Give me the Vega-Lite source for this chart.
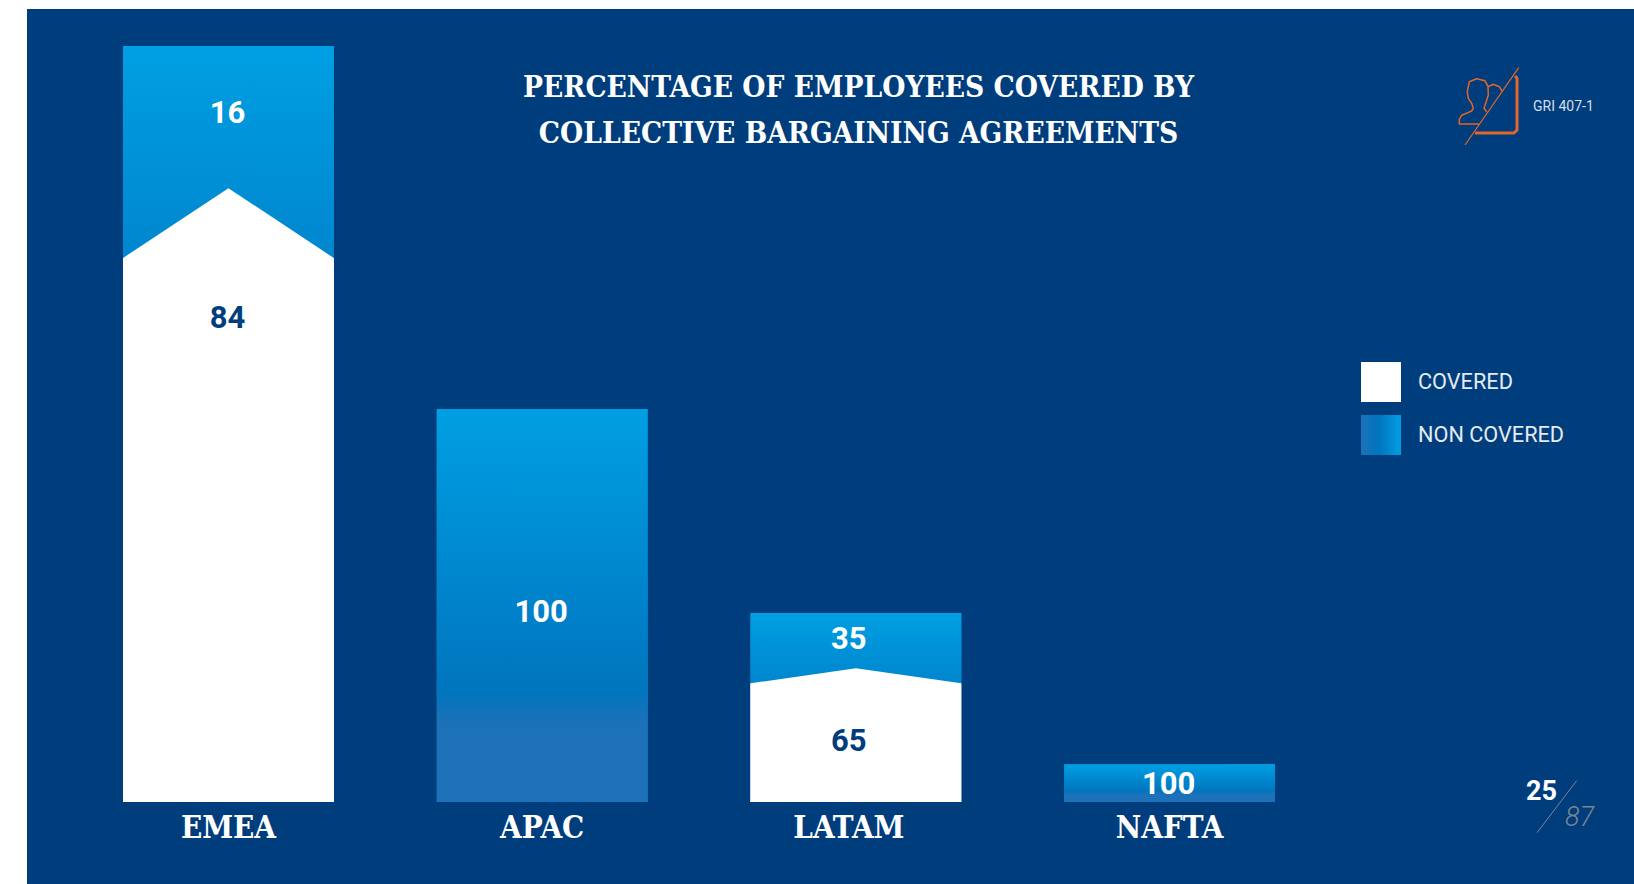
{
"$schema":"https://vega.github.io/schema/vega-lite/v6.json",
"width":1607,"height":875,
"autosize":{"type":"none"},
"padding":{"left":27,"top":9,"right":0,"bottom":0},
"background":"#ffffff",
"view":{"fill":"#003D7C","stroke":null},
"title":{"text":["PERCENTAGE OF EMPLOYEES COVERED BY","COLLECTIVE BARGAINING AGREEMENTS"],"font":"DejaVu Serif Condensed","fontWeight":"bold","fontSize":29.6,"lineHeight":46,"color":"#ffffff","anchor":"middle","dx":28,"dy":141,"baseline":"top","offset":0},
"datasets":{
"segments":[
{"region":"EMEA","segment":"COVERED","y0":0,"y1":71.96,"share":84,"label_at":64.2},
{"region":"EMEA","segment":"NON COVERED","y0":71.96,"y1":100,"share":16,"label_at":91.3},
{"region":"APAC","segment":"NON COVERED","y0":0,"y1":52,"share":100,"label_at":25.3},
{"region":"LATAM","segment":"COVERED","y0":0,"y1":15.7,"share":65,"label_at":8.2},
{"region":"LATAM","segment":"NON COVERED","y0":15.7,"y1":25,"share":35,"label_at":21.7},
{"region":"NAFTA","segment":"NON COVERED","y0":0,"y1":5,"share":100,"label_at":2.5}
],
"chevrons":[
{"region":"EMEA","pos":0.664,"top":71.96,"base":0},{"region":"EMEA","pos":1,"top":81.2,"base":0},{"region":"EMEA","pos":1.336,"top":71.96,"base":0},
{"region":"LATAM","pos":2.664,"top":15.7,"base":0},{"region":"LATAM","pos":3,"top":17.7,"base":0},{"region":"LATAM","pos":3.336,"top":15.7,"base":0}
],
"notes":[
{"text":"GRI 407-1","x":1533,"y":106.5},
{"text":"25","x":1526,"y":792},
{"text":"87","x":1565,"y":818}
],
"icon":[
{"part":"diag","x":1518.7,"y":67.7,"i":0},{"part":"diag","x":1465,"y":145,"i":1},
{"part":"slash","x":1576.7,"y":780.7,"i":0},{"part":"slash","x":1537,"y":832.7,"i":1},
{"part":"frame","x":1515,"y":76,"i":0},{"part":"frame","x":1517,"y":78,"i":1},{"part":"frame","x":1517,"y":130,"i":2},{"part":"frame","x":1514,"y":133,"i":3},{"part":"frame","x":1475,"y":133,"i":4},
{"part":"front","x":1479.3,"y":124,"i":0},{"part":"front","x":1459.3,"y":124,"i":1},{"part":"front","x":1459.3,"y":119.3,"i":2},{"part":"front","x":1461.7,"y":115.3,"i":3},{"part":"front","x":1471.7,"y":111,"i":4},{"part":"front","x":1473.3,"y":108.3,"i":5},{"part":"front","x":1471.7,"y":103.3,"i":6},{"part":"front","x":1468.3,"y":98.3,"i":7},{"part":"front","x":1467.3,"y":91.7,"i":8},{"part":"front","x":1469.3,"y":81.7,"i":9},{"part":"front","x":1476.7,"y":78.7,"i":10},{"part":"front","x":1485,"y":80.7,"i":11},{"part":"front","x":1488,"y":86.7,"i":12},{"part":"front","x":1488.3,"y":95,"i":13},{"part":"front","x":1485.7,"y":103.3,"i":14},{"part":"front","x":1484,"y":108.3,"i":15},{"part":"front","x":1486.7,"y":111.7,"i":16},
{"part":"back","x":1488,"y":86.7,"i":0},{"part":"back","x":1493.3,"y":84.3,"i":1},{"part":"back","x":1499.3,"y":86.7,"i":2},{"part":"back","x":1502.3,"y":91.7,"i":3}
]
},
"layer":[
{
"data":{"name":"segments"},
"encoding":{
"x":{"field":"region","type":"nominal","sort":["EMEA","APAC","LATAM","NAFTA"],"scale":{"type":"band","domain":["EMEA","APAC","LATAM","NAFTA"],"range":[96,1248],"paddingInner":0.328,"paddingOuter":0},
"axis":{"title":null,"orient":"bottom","offset":-82,"domain":false,"ticks":false,"labelAngle":0,"labelPadding":11,"labelOffset":{"condition":{"test":"datum.value==='LATAM'","value":-7},"value":0},"labelFont":"DejaVu Serif Condensed","labelFontWeight":"bold","labelFontSize":31,"labelColor":"#ffffff"}},
"y":{"field":"y1","type":"quantitative","scale":{"domain":[-10.85,104.9],"nice":false,"zero":false},"axis":null},
"y2":{"field":"y0"}
},
"layer":[
{"mark":{"type":"bar"},
"encoding":{
"color":{"field":"segment","type":"nominal","scale":{"domain":["COVERED","NON COVERED"],"range":["#ffffff",{"expr":"{gradient:'linear',x1:0,y1:0,x2:1,y2:0,stops:[{offset:0,color:'#1D71B8'},{offset:0.45,color:'#0075BE'},{offset:1,color:'#009FE3'}]}"}]},
"legend":{"title":null,"orient":"none","legendX":1334,"legendY":353,"symbolType":"square","symbolSize":1600,"symbolStrokeWidth":0,"rowPadding":13,"labelFont":"Roboto","labelFontSize":21.7,"labelColor":"#E4EBF3","labelOffset":17,"labelLimit":240}}
}},
{"transform":[{"filter":"datum.segment==='NON COVERED' && (datum.region==='EMEA' || datum.region==='LATAM')"}],
"mark":{"type":"bar","color":{"gradient":"linear","x1":0,"y1":0,"x2":0,"y2":1,"stops":[{"offset":0,"color":"#009FE3"},{"offset":1,"color":"#0086CE"}]}}},
{"transform":[{"filter":"datum.region==='APAC' || datum.region==='NAFTA'"}],
"mark":{"type":"bar","color":{"gradient":"linear","x1":0,"y1":0,"x2":0,"y2":1,"stops":[{"offset":0,"color":"#009FE3"},{"offset":0.72,"color":"#0075BE"},{"offset":0.8,"color":"#1D71B8"},{"offset":1,"color":"#1D71B8"}]}}}
]
},
{"data":{"name":"chevrons"},"mark":{"type":"area","color":"#ffffff","orient":"vertical"},
"encoding":{
"x":{"field":"pos","type":"quantitative","scale":{"domain":[1,4],"range":[201.4,1142.6],"zero":false,"nice":false},"axis":null},
"y":{"field":"top","type":"quantitative","scale":{"domain":[-10.85,104.9],"nice":false,"zero":false},"axis":null},
"y2":{"field":"base"},"detail":{"field":"region"}}},
{"data":{"name":"segments"},
"encoding":{
"x":{"field":"region","type":"nominal","sort":["EMEA","APAC","LATAM","NAFTA"],"scale":{"type":"band","domain":["EMEA","APAC","LATAM","NAFTA"],"range":[96,1248],"paddingInner":0.328,"paddingOuter":0},"axis":null},
"y":{"field":"label_at","type":"quantitative","scale":{"domain":[-10.85,104.9],"nice":false,"zero":false},"axis":null},
"text":{"field":"share"},
"color":{"condition":{"test":"datum.segment==='COVERED'","value":"#003D7C"},"value":"#ffffff"}
},
"layer":[
{"transform":[{"filter":"datum.region!=='LATAM'"}],"mark":{"type":"text","font":"Roboto","fontWeight":"bold","fontSize":31,"baseline":"middle","dx":-1,"dy":2}},
{"transform":[{"filter":"datum.region==='LATAM'"}],"mark":{"type":"text","font":"Roboto","fontWeight":"bold","fontSize":31,"baseline":"middle","dx":-7,"dy":2}}
]
},
{
"encoding":{
"x":{"field":"x","type":"quantitative","scale":{"domain":[27,1634],"range":[0,1607],"zero":false,"nice":false},"axis":null},
"y":{"field":"y","type":"quantitative","scale":{"domain":[9,884],"range":[0,875],"zero":false,"nice":false},"axis":null}
},
"layer":[
{"data":{"name":"icon"},"transform":[{"filter":"datum.part==='diag'"}],"mark":{"type":"line","color":"#E0662B","strokeWidth":1.2},"encoding":{"order":{"field":"i"}}},
{"data":{"name":"icon"},"transform":[{"filter":"datum.part==='slash'"}],"mark":{"type":"line","color":"#7A8590","strokeWidth":1},"encoding":{"order":{"field":"i"}}},
{"data":{"name":"icon"},"transform":[{"filter":"datum.part==='frame'"}],"mark":{"type":"line","color":"#E0662B","strokeWidth":3,"strokeJoin":"round"},"encoding":{"order":{"field":"i"}}},
{"data":{"name":"icon"},"transform":[{"filter":"datum.part==='front' || datum.part==='back'"}],"mark":{"type":"line","color":"#E0662B","strokeWidth":1.5,"strokeJoin":"round"},"encoding":{"detail":{"field":"part"},"order":{"field":"i"}}},
{"data":{"name":"notes"},"transform":[{"filter":"datum.text==='GRI 407-1'"}],"mark":{"type":"text","font":"Roboto","fontSize":14,"color":"#D5DEE9","align":"left","baseline":"middle"},"encoding":{"text":{"field":"text"}}},
{"data":{"name":"notes"},"transform":[{"filter":"datum.text==='25'"}],"mark":{"type":"text","font":"Roboto","fontWeight":"bold","fontSize":27,"color":"#ffffff","align":"left","baseline":"middle"},"encoding":{"text":{"field":"text"}}},
{"data":{"name":"notes"},"transform":[{"filter":"datum.text==='87'"}],"mark":{"type":"text","font":"Roboto","fontWeight":300,"fontStyle":"italic","fontSize":27,"color":"#7A8590","align":"left","baseline":"middle"},"encoding":{"text":{"field":"text"}}}
]
}
],
"resolve":{"scale":{"x":"independent","y":"independent"}}
}
